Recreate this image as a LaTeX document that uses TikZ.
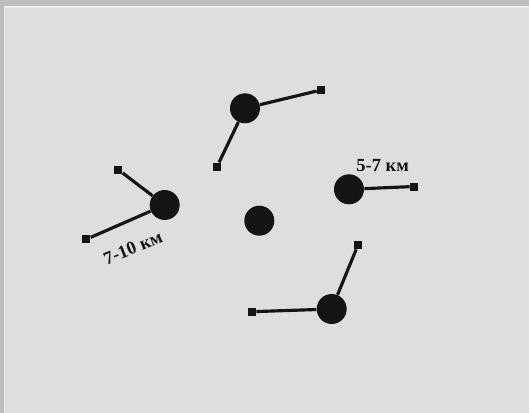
\documentclass[tikz,border=0pt]{standalone}
\usepackage{fontspec}
\setmainfont{Liberation Serif}
\usetikzlibrary{positioning}
\definecolor{frame}{gray}{0.74}
\definecolor{paper}{gray}{0.87}
\definecolor{ink}{gray}{0.08}

\begin{document}
\begin{tikzpicture}[
  x=0.02cm, y=-0.02cm,
  font=\bfseries\fontsize{10.5}{12}\selectfont,
  town/.style={circle, fill=ink, minimum size=0.6cm, inner sep=0pt},
  post/.style={rectangle, fill=ink, minimum size=0.16cm, inner sep=0pt},
  link/.style={line width=1.8pt, draw=ink}
]

% background
\fill[frame] (0,0) rectangle (529,413);
\fill[paper!60!white] (4,6) rectangle (529,413);
\fill[paper] (5,7.5) rectangle (529,413);
\useasboundingbox (0,0) rectangle (529,413);

% towns
\node[town] (mid) at (259.3,220.7) {};
\node[town] (west) at (164.7,205) {};
\node[town] (north) at (245,108.3) {};
\node[town] (east) at (349,189.3) {};
\node[town] (south) at (331.7,309) {};

% posts
\node[post] (w1) at (118.3,169.7) {};
\node[post] (w2) at (86.3,239.3) {};
\node[post] (n1) at (321,90) {};
\node[post] (n2) at (217,166.7) {};
\node[post] (e1) at (414,186.5) {};
\node[post] (s1) at (358,245) {};
\node[post] (s2) at (252,311.7) {};

% links
\draw[link] (west) -- (w1);
\draw[link] (west) -- (w2);
\draw[link] (north) -- (n1);
\draw[link] (north) -- (n2);
\draw[link] (east) -- (e1);
\draw[link] (south) -- (s1);
\draw[link] (south) -- (s2);

% distances
\node[text=ink, inner sep=1pt] (far) at (133,248) [rotate=22] {7-10 км};
\node[text=ink] (near) at (382.7,165.7) {5-7 км};

\end{tikzpicture}
\end{document}
